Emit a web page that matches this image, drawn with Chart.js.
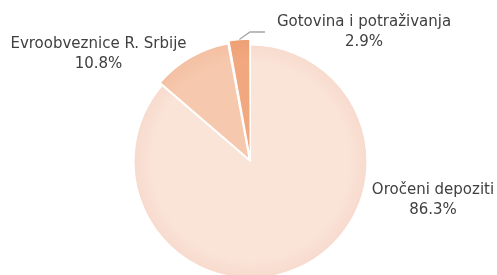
<!DOCTYPE html>
<html>
<head>
<meta charset="utf-8">
<script src="https://cdn.jsdelivr.net/npm/chart.js@4/dist/chart.umd.min.js"></script>
<style>
  html, body { margin: 0; padding: 0; background: #ffffff; }
  #wrap { width: 497px; height: 275px; }
</style>
</head>
<body>
<div id="wrap"><canvas id="c" width="497" height="275"></canvas></div>
<script>
// ---- data ----
const categories = ['Oročeni depoziti', 'Evroobveznice R. Srbije', 'Gotovina i potraživanja'];
const shares = [86.3, 10.8, 2.9];
const valueLabels = ['86.3%', '10.8%', '2.9%'];

// ---- styles ----
const innerColors = ['#FAE3D7', '#F6C8AD', '#F1A87F'];
const outerColors = ['#F6D7C9', '#F3BD9F', '#EE9E73'];
const sliceOffsets = [0, 10, 13];
// label centres relative to pie centre (dx, dy of first line)
const labelPos = [[182.5, 29], [-152, -117.5], [113.5, -139.5]];
const leaderSlice = 2;

const labelPlugin = {
  id: 'labels',
  afterDatasetsDraw(chart) {
    const ctx = chart.ctx;
    const meta = chart.getDatasetMeta(0);
    const arc0 = meta.data[0];
    const cx = arc0.x, cy = arc0.y;
    ctx.save();
    // leader line for small slice
    const a = meta.data[leaderSlice];
    const mid = (a.startAngle + a.endAngle) / 2;
    const r = a.outerRadius + 6;
    const sx = cx + Math.cos(mid) * r;
    const sy = cy + Math.sin(mid) * r;
    ctx.strokeStyle = '#A6A6A6';
    ctx.lineWidth = 1.3;
    ctx.beginPath();
    ctx.moveTo(sx, sy);
    ctx.lineTo(cx - 0.5, cy - 129.5);
    ctx.lineTo(cx + 14.5, cy - 129.5);
    ctx.stroke();

    ctx.fillStyle = '#404040';
    ctx.font = '15px "DejaVu Sans"';
    ctx.textAlign = 'center';
    ctx.textBaseline = 'middle';
    categories.forEach((name, i) => {
      const [dx, dy] = labelPos[i];
      ctx.fillText(name, cx + dx, cy + dy);
      ctx.fillText(valueLabels[i], cx + dx, cy + dy + 20);
    });
    ctx.restore();
  }
};

function grad(context, i) {
  const chart = context.chart;
  const ca = chart.chartArea;
  if (!ca) return innerColors[i];
  const cx = (ca.left + ca.right) / 2, cy = (ca.top + ca.bottom) / 2;
  const g = chart.ctx.createRadialGradient(cx, cy, 0, cx, cy, 124);
  g.addColorStop(0, innerColors[i]);
  g.addColorStop(0.8, innerColors[i]);
  g.addColorStop(1, outerColors[i]);
  return g;
}

new Chart(document.getElementById('c'), {
  type: 'pie',
  data: {
    labels: categories,
    datasets: [{
      data: shares,
      backgroundColor: (ctx) => grad(ctx, ctx.dataIndex),
      borderColor: '#ffffff',
      borderWidth: 1.2,
      offset: sliceOffsets,
      hoverOffset: 0,
      clip: false
    }]
  },
  options: {
    responsive: false,
    animation: false,
    radius: 116.5,
    layout: { padding: { left: 4, right: 0, top: 48, bottom: 0 } },
    plugins: { legend: { display: false }, tooltip: { enabled: false } },
    events: []
  },
  plugins: [labelPlugin]
});
</script>
</body>
</html>
